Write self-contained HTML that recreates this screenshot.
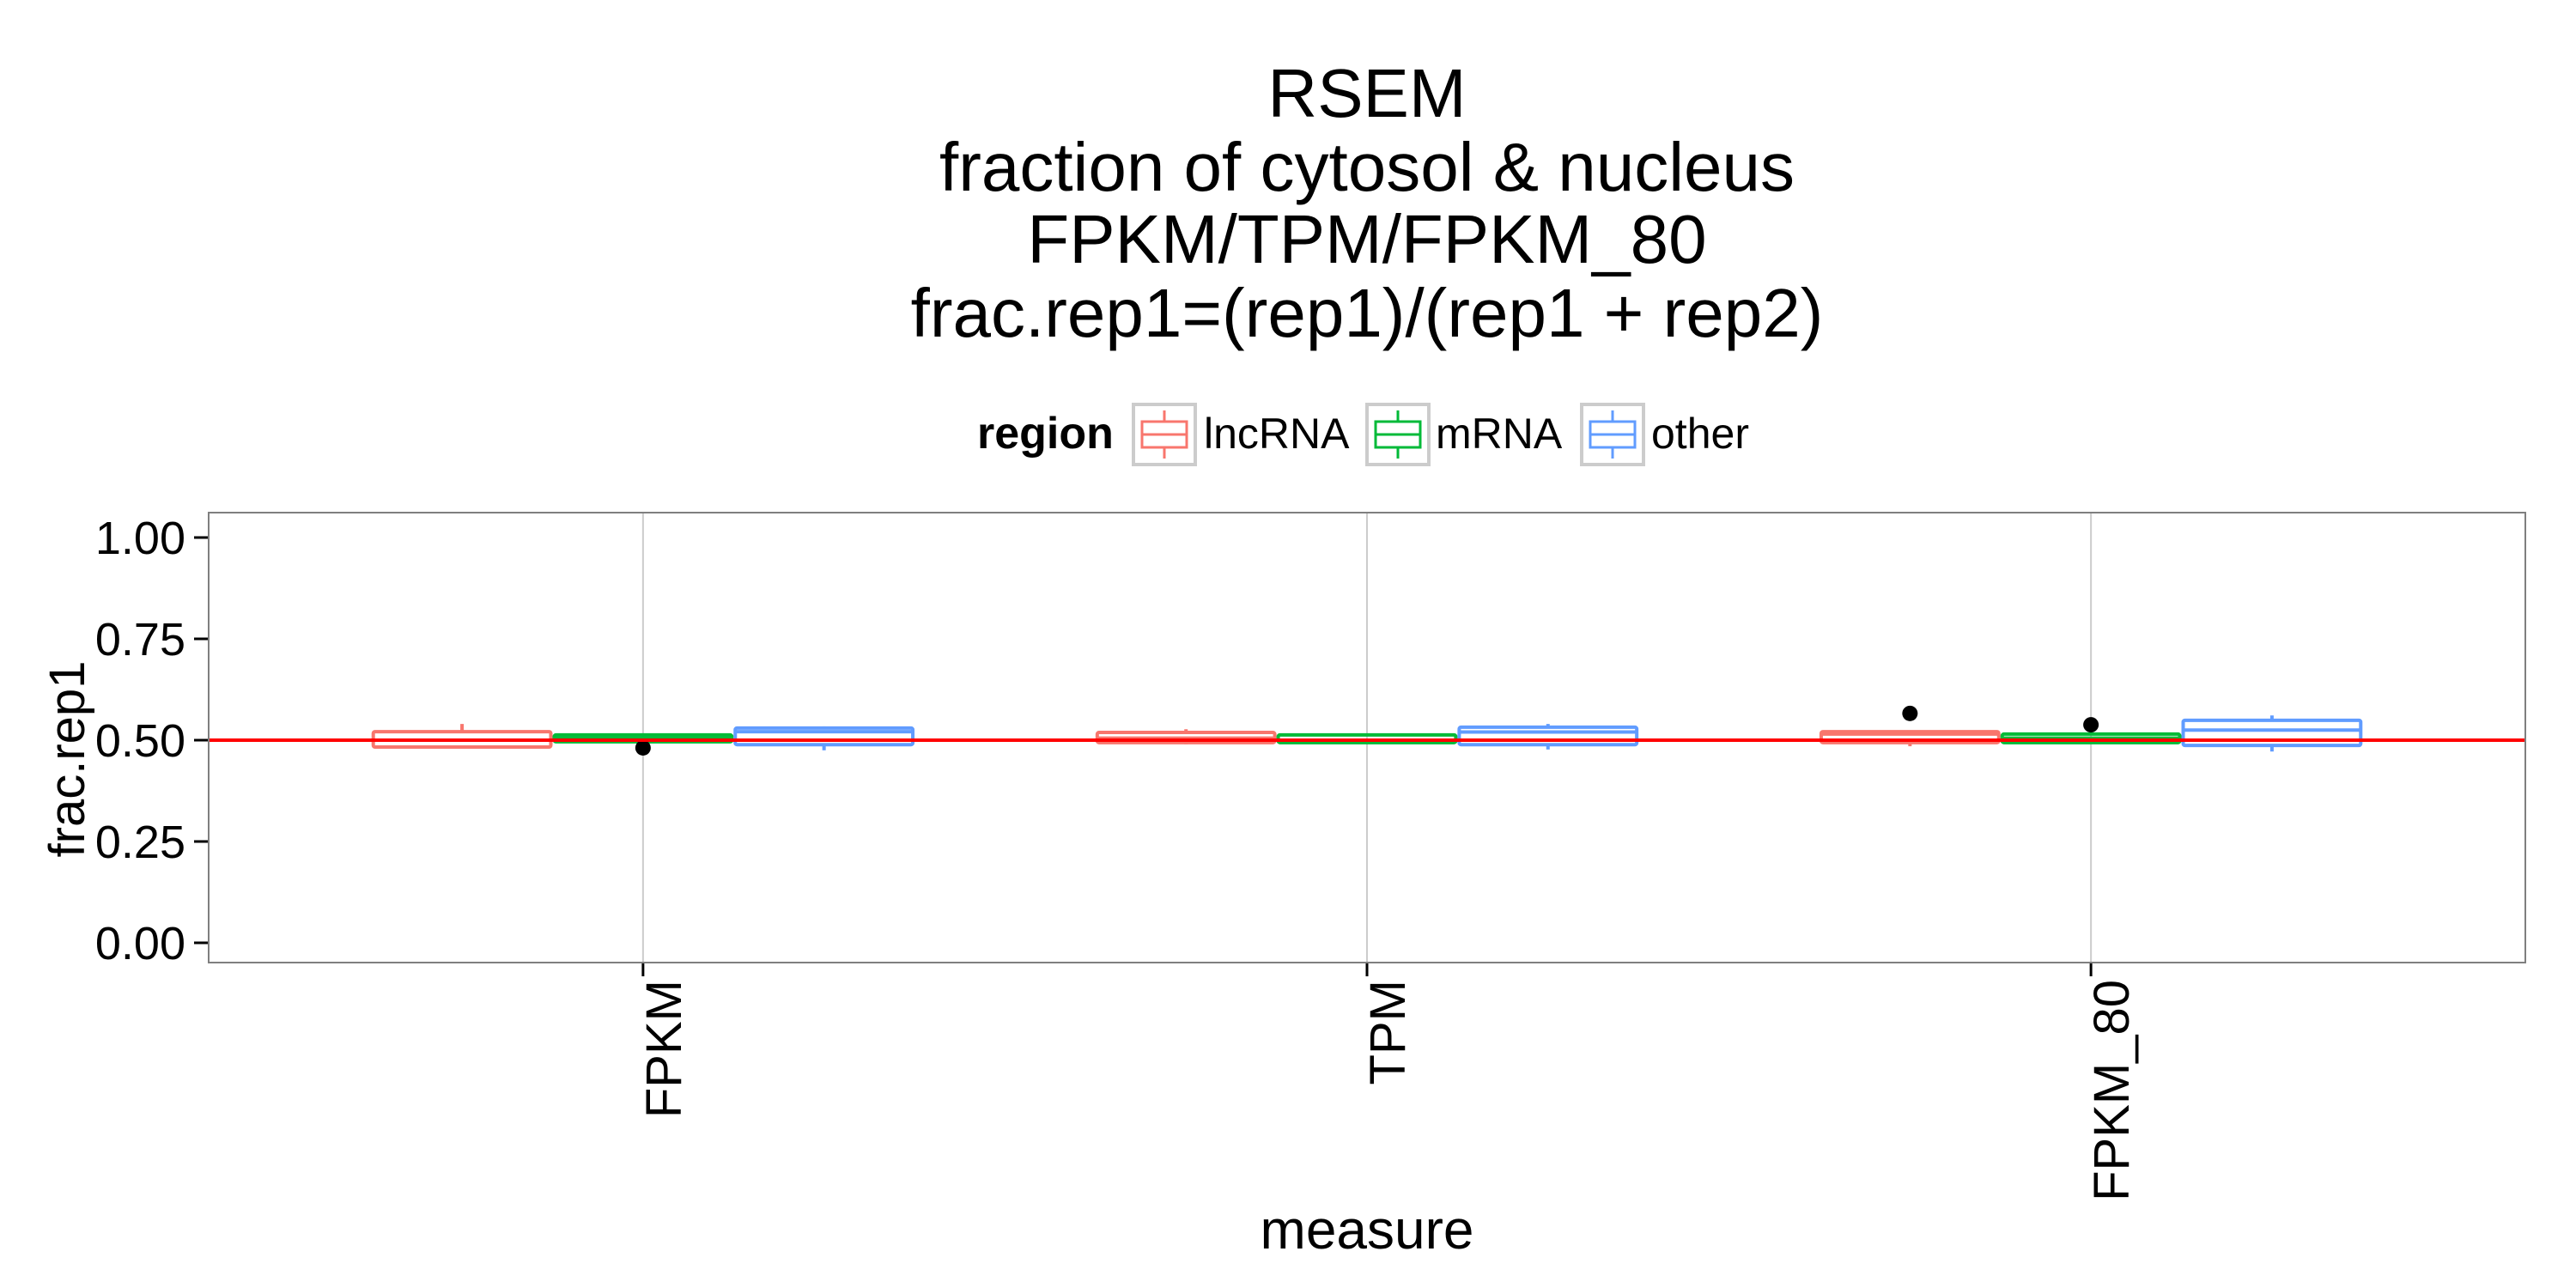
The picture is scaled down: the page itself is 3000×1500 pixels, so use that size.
<!DOCTYPE html>
<html><head><meta charset="utf-8"><style>
html,body{margin:0;padding:0;background:#fff;}
svg{display:block;font-family:"Liberation Sans",Arial,sans-serif;}
</style></head><body>
<svg id="chart" width="3000" height="1500" viewBox="0 0 3000 1500">
<rect x="0" y="0" width="3000" height="1500" fill="#fff"/>
<g font-size="80" text-anchor="middle" fill="#000">
<text x="1592" y="136">RSEM</text>
<text x="1592" y="222">fraction of cytosol &amp; nucleus</text>
<text x="1592" y="306">FPKM/TPM/FPKM_80</text>
<text x="1592" y="392">frac.rep1=(rep1)/(rep1 + rep2)</text>
</g>
<g id="legend">
<text x="1138" y="522" font-size="52" font-weight="bold">region</text>
</g>
<g id="plot"></g>
<text x="1592" y="1454" font-size="64" text-anchor="middle">measure</text>
<text transform="translate(98,884) rotate(-90)" font-size="58" text-anchor="middle">frac.rep1</text>
</svg>
<script>
const categories = ["FPKM", "TPM", "FPKM_80"];
const regions = ["lncRNA", "mRNA", "other"];
const colors = ["#F8766D", "#00BA38", "#619CFF"];
const yTicks = [0, 0.25, 0.5, 0.75, 1.0];
const yTickLabels = ["0.00", "0.25", "0.50", "0.75", "1.00"];
// per category, per region: [lowerWhisker, q1, median, q3, upperWhisker]
const statsFPKM = [[0.483, 0.483, 0.50, 0.521, 0.540], [0.496, 0.496, 0.505, 0.513, 0.513], [0.475, 0.489, 0.521, 0.530, 0.534]];
const statsTPM = [[0.490, 0.494, 0.505, 0.519, 0.527], [0.494, 0.494, 0.50, 0.513, 0.513], [0.477, 0.489, 0.52, 0.532, 0.540]];
const statsFPKM80 = [[0.485, 0.494, 0.515, 0.521, 0.521], [0.494, 0.494, 0.505, 0.515, 0.515], [0.472, 0.487, 0.525, 0.549, 0.561]];
// outliers: [categoryIndex, regionIndex, value]
const outliers = [[0, 1, 0.481], [2, 0, 0.566], [2, 1, 0.538]];
const hlineValue = 0.5;

const NS = "http://www.w3.org/2000/svg";
const P = {l: 243, r: 2941, t: 597, b: 1121};
const Y0 = 1098, Y1 = 626;
function yScale(v){ return Y0 + (Y1 - Y0) * v; }
const step = (P.r - P.l) / 3.2;
function xScale(i){ return P.l + step * (0.6 + i); }
const groupW = 0.75 * step;
function mk(tag, attrs, parent){ const e = document.createElementNS(NS, tag); for (const k in attrs) e.setAttribute(k, attrs[k]); parent.appendChild(e); return e; }
const plot = document.getElementById("plot");

const border = mk("rect", {x: P.l, y: P.t, width: P.r - P.l, height: P.b - P.t, fill: "#fff", stroke: "none"}, plot);


categories.forEach((c, i) => {
  const g = mk("line", {x1: xScale(i), x2: xScale(i), y1: P.t, y2: P.b, stroke: "#cccccc", "stroke-width": 2}, plot);
  
  
});

yTicks.forEach((v, i) => {
  const t = mk("line", {x1: 226, x2: P.l, y1: yScale(v), y2: yScale(v), stroke: "#000", "stroke-width": 3}, plot);
  
  
  const lb = mk("text", {x: 216, y: yScale(v) + 19, "font-size": 54, "text-anchor": "end", fill: "#000"}, plot);
  lb.textContent = yTickLabels[i];
  
  
});
categories.forEach((c, i) => {
  const t = mk("line", {x1: xScale(i), x2: xScale(i), y1: P.b, y2: P.b + 16, stroke: "#000", "stroke-width": 3}, plot);
  
  
  const lb = mk("text", {transform: "translate(" + (xScale(i) + 44) + "," + (P.b + 20) + ") rotate(-90)", "font-size": 58, "text-anchor": "end", fill: "#000"}, plot);
  lb.textContent = c;
  
  
});

const allStats = [statsFPKM, statsTPM, statsFPKM80];
allStats.forEach((cat, ci) => {
  cat.forEach((s, ri) => {
    const bw = groupW / 3;
    const x0 = xScale(ci) - groupW / 2 + ri * bw;
    const xc = x0 + bw / 2;
    const g = mk("g", {stroke: colors[ri], "stroke-width": 4, fill: "none"}, plot);
    
    
    mk("line", {x1: xc, x2: xc, y1: yScale(s[4]), y2: yScale(s[3])}, g);
    mk("line", {x1: xc, x2: xc, y1: yScale(s[0]), y2: yScale(s[1])}, g);
    mk("rect", {x: x0 + 2, y: yScale(s[3]), width: bw - 4, height: Math.max(1, yScale(s[1]) - yScale(s[3])), rx: 2}, g);
    mk("line", {x1: x0 + 2, x2: x0 + bw - 2, y1: yScale(s[2]), y2: yScale(s[2])}, g);
  });
});
outliers.forEach(o => {
  const bw = groupW / 3;
  const xc = xScale(o[0]) - groupW / 2 + o[1] * bw + bw / 2;
  const c = mk("circle", {cx: xc, cy: yScale(o[2]), r: 9, fill: "#000"}, plot);
  
  
});
const h = mk("line", {x1: P.l, x2: P.r, y1: yScale(hlineValue), y2: yScale(hlineValue), stroke: "#ff0000", "stroke-width": 4}, plot);


const bd = mk("rect", {x: P.l, y: P.t, width: P.r - P.l, height: P.b - P.t, fill: "none", stroke: "#7f7f7f", "stroke-width": 2}, plot);



const leg = document.getElementById("legend");
const keyX = [1320, 1592, 1842];
const textX = [1402, 1672, 1923];
regions.forEach((r, i) => {
  const g = mk("g", {}, leg);
  
  
  mk("rect", {x: keyX[i], y: 471, width: 72, height: 70, fill: "#fff", stroke: "#cccccc", "stroke-width": 4}, g);
  const kx = keyX[i] + 36;
  mk("line", {x1: kx, x2: kx, y1: 478, y2: 491, stroke: colors[i], "stroke-width": 3}, g);
  mk("line", {x1: kx, x2: kx, y1: 521, y2: 534, stroke: colors[i], "stroke-width": 3}, g);
  mk("rect", {x: keyX[i] + 10, y: 491, width: 52, height: 30, fill: "#fff", stroke: colors[i], "stroke-width": 3}, g);
  mk("line", {x1: keyX[i] + 10, x2: keyX[i] + 62, y1: 506, y2: 506, stroke: colors[i], "stroke-width": 3}, g);
  const t = mk("text", {x: textX[i], y: 522, "font-size": 50, fill: "#000"}, g);
  t.textContent = r;
});
</script>
</body></html>
